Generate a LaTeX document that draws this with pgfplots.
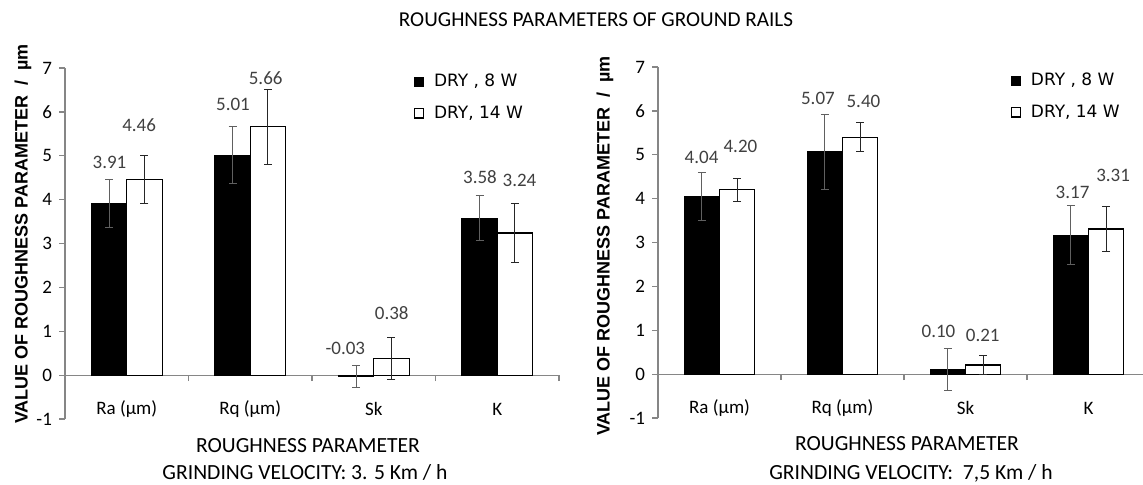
\documentclass[border=0pt]{standalone}
\usepackage{pgfplots}
\pgfplotsset{compat=1.18}
\usetikzlibrary{arrows.meta}
\usepackage{fontspec}
\setmainfont{Carlito}
\newfontfamily\dejavu{DejaVu Sans}
\newfontfamily\arial{Liberation Sans}
\definecolor{axgray}{HTML}{868686}
\definecolor{lblgray}{HTML}{404040}
\definecolor{errgray}{HTML}{606060}

\tikzset{
 lbl/.style={font=\fontsize{9.5}{11}\selectfont, text=lblgray, inner sep=0pt},
 cat/.style={font=\fontsize{9.5}{11}\selectfont, text=black, inner sep=0pt},
}
\pgfplotsset{
 rough/.style={
  scale only axis, height=175.5pt, ymin=-1, ymax=7, xmin=-0.5,
  axis y line=left, axis x line=middle,
  axis line style={-, draw=axgray, line width=0.6pt},
  ytick={-1,0,...,7}, tick align=outside, major tick length=3pt,
  tick style={draw=axgray, line width=0.6pt},
  hide obscured x ticks=false, hide obscured y ticks=false,
  xticklabels={},
  yticklabel style={font=\fontsize{9.5}{11}\selectfont, text=black},
  /pgf/number format/assume math mode=true,
  ybar, bar width=0.287,
  legend style={draw=none, fill=none, font=\dejavu\fontsize{8.5}{10}\selectfont,
    anchor=north west, row sep=4pt, column sep=3pt, inner sep=0pt},
  legend cell align=left,
  legend image code/.code={\draw[#1, line width=0.6pt] (0pt,-2.2pt) rectangle (4.6pt,2.4pt);},
  clip=false,
 },
 s8/.style={fill=black, draw=black, bar shift=-0.1435,
   error bars/.cd, y dir=both, y explicit, error mark=none,
   error bar style={draw=errgray, line width=0.5pt, -{Bar[width=4pt]}}},
 s14/.style={fill=white, draw=black, line width=0.6pt, bar shift=0.1435,
   error bars/.cd, y dir=both, y explicit, error mark=none,
   error bar style={draw=black!85, line width=0.5pt, -{Bar[width=4pt]}}},
}

\begin{document}
\begin{tikzpicture}
\useasboundingbox (0,0) rectangle (571.5pt,-242pt);

% ---------- left chart ----------
\begin{axis}[rough, at={(32.5pt,-209.5pt)}, anchor=south west,
  width=247pt, xmax=3.5, xtick={0.5,1.5,2.5,3.5},
  legend style={at={(0.705,0.995)}}]
\addplot[s8] coordinates {(0,3.91) +- (0,0.55) (1,5.01) +- (0,0.66) (2,-0.03) +- (0,0.26) (3,3.58) +- (0,0.53)};
\addlegendentry{DRY , 8 W}
\addplot[s14] coordinates {(0,4.46) +- (0,0.56) (1,5.66) +- (0,0.86) (2,0.38) +- (0,0.49) (3,3.24) +- (0,0.68)};
\addlegendentry{DRY, 14 W}
\node[lbl] at (axis cs:-0.14,4.86) {3.91};
\node[lbl] at (axis cs:0.10,5.69) {4.46};
\node[lbl] at (axis cs:0.86,6.18) {5.01};
\node[lbl] at (axis cs:1.125,6.76) {5.66};
\node[lbl] at (axis cs:1.77,0.60) {-0.03};
\node[lbl] at (axis cs:2.146,1.42) {0.38};
\node[lbl] at (axis cs:2.86,4.51) {3.58};
\node[lbl] at (axis cs:3.18,4.43) {3.24};
\node[cat] at (axis cs:0,-0.77) {Ra (µm)};
\node[cat] at (axis cs:1,-0.77) {Rq (µm)};
\node[cat] at (axis cs:2,-0.77) {Sk};
\node[cat] at (axis cs:3,-0.77) {K};
\end{axis}

% ---------- right chart ----------
\begin{axis}[rough, at={(329pt,-209pt)}, anchor=south west,
  width=242.5pt, xmax=3.443, xtick={0.5,1.5,2.5},
  legend style={at={(0.726,0.995)}}]
\addplot[s8] coordinates {(0,4.04) +- (0,0.56) (1,5.07) +- (0,0.87) (2,0.10) +- (0,0.49) (3,3.17) +- (0,0.68)};
\addlegendentry{DRY , 8 W}
\addplot[s14] coordinates {(0,4.20) +- (0,0.28) (1,5.40) +- (0,0.34) (2,0.21) +- (0,0.23) (3,3.31) +- (0,0.53)};
\addlegendentry{DRY, 14 W}
\node[lbl] at (axis cs:-0.146,4.94) {4.04};
\node[lbl] at (axis cs:0.17,5.19) {4.20};
\node[lbl] at (axis cs:0.80,6.28) {5.07};
\node[lbl] at (axis cs:1.17,6.21) {5.40};
\node[lbl] at (axis cs:1.78,0.97) {0.10};
\node[lbl] at (axis cs:2.14,0.89) {0.21};
\node[lbl] at (axis cs:2.87,4.15) {3.17};
\node[lbl] at (axis cs:3.20,4.53) {3.31};
\node[cat] at (axis cs:0,-0.77) {Ra (µm)};
\node[cat] at (axis cs:1,-0.77) {Rq (µm)};
\node[cat] at (axis cs:2,-0.77) {Sk};
\node[cat] at (axis cs:3,-0.77) {K};
\end{axis}

% ---------- texts ----------
\node[font=\fontsize{10.6}{12}\selectfont] at (298pt,-10pt) {ROUGHNESS PARAMETERS OF GROUND RAILS};
\node[rotate=90, font=\arial\bfseries\fontsize{9}{11}\selectfont] at (11.5pt,-117pt) {VALUE OF ROUGHNESS PARAMETER\ \ /\ \ µm};
\node[rotate=90, font=\arial\bfseries\fontsize{9}{11}\selectfont] at (302.5pt,-123pt) {VALUE OF ROUGHNESS PARAMETER\ \ /\ \ µm};
\node[font=\fontsize{10.8}{13}\selectfont] at (154pt,-223pt) {ROUGHNESS PARAMETER};
\node[font=\fontsize{10.8}{13}\selectfont] at (152.5pt,-236pt) {GRINDING VELOCITY: 3. 5 Km / h};
\node[font=\fontsize{10.8}{13}\selectfont] at (453.5pt,-222pt) {ROUGHNESS PARAMETER};
\node[font=\fontsize{10.8}{13}\selectfont] at (455.5pt,-236.5pt) {GRINDING VELOCITY:\ \ 7,5 Km / h};
\end{tikzpicture}
\end{document}
